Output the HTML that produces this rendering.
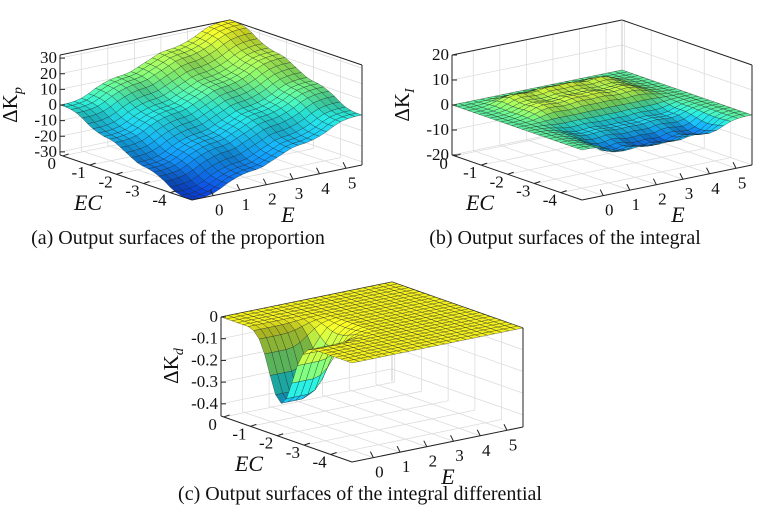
<!DOCTYPE html>
<html><head><meta charset="utf-8"><style>
body{margin:0;background:#fff;}
svg{display:block;}
text{font-family:"Liberation Serif","Times New Roman",serif;}
</style></head><body>
<svg id="fig" width="774" height="516" viewBox="0 0 774 516"></svg>
<script>
// ---- data ----
const eSamples = [-0.8,-0.53,-0.27,0,0.27,0.53,0.8,1.07,1.33,1.6,1.87,2.13,2.4,2.67,2.93,3.2,3.47,3.73,4,4.27,4.53,4.8,5.07,5.33,5.6];
const ecSamples = [-4.8,-4.6,-4.39,-4.19,-3.98,-3.78,-3.57,-3.37,-3.17,-2.96,-2.76,-2.55,-2.35,-2.15,-1.94,-1.74,-1.53,-1.33,-1.12,-0.92,-0.72,-0.51,-0.31,-0.1,0.1];
const kpAlongE = [-16,-16,-15.5,-14.5,-12.5,-10,-8,-6.5,-5.5,-5,-4,-2,0,2,4,5,5.5,6.5,8,10,12.5,14.5,15.5,16,16];
const kpAlongEC = [-16,-16,-15.5,-14.5,-12.5,-10,-8,-6.5,-5.5,-5,-4,-2,0,2,4,5,5.5,6.5,8,10,12.5,14.5,15.5,16,16];
const kiAlongE = [0,0,0.05,0.2,0.5,0.8,0.95,0.9,0.8,0.85,1,1,0.95,1,1,0.85,0.8,0.9,0.95,0.8,0.5,0.2,0.05,0,0];
const kiAlongEC = [-4,-5,-6,-6.5,-6,-5,-4,-3,-3,-3,-2,-1,0.5,2,3,3.5,3.5,3,3,3.5,4,3,1.5,0.5,0];
const kdAlongE = [1,1,1,1,0.95,0.8,0.55,0.3,0.12,0.04,0,0,0,0,0,0,0,0,0,0,0,0,0,0,0];
const kdAlongEC = [0,0,0,0,0,0,0,0,-0.01,-0.04,-0.1,-0.19,-0.27,-0.3,-0.27,-0.19,-0.1,-0.04,-0.01,0,0,0,0,0,0];
const eTicks = [0,1,2,3,4,5];
const ecTicks = [0,-1,-2,-3,-4];
const kpTicks = [30,20,10,0,-10,-20,-30];
const kiTicks = [20,10,0,-10,-20];
const kdTicks = [0,-0.1,-0.2,-0.3,-0.4];

const NS="http://www.w3.org/2000/svg";
const svg=document.getElementById('fig');
function mk(tag,attrs,parent){const el=document.createElementNS(NS,tag);for(const k in attrs)el.setAttribute(k,attrs[k]);(parent||svg).appendChild(el);return el;}
const FONT='"Liberation Serif", "DejaVu Serif", serif';

const stops=[[0,[10,60,210]],[0.3,[20,170,240]],[0.5,[40,225,210]],[0.7,[130,240,110]],[1,[245,240,30]]];
function cmap(t,shade){t=Math.max(0,Math.min(1,t));let i=0;while(i<stops.length-2&&t>stops[i+1][0])i++;
 const a=stops[i],b=stops[i+1],f=(t-a[0])/(b[0]-a[0]);
 const c=a[1].map((v,k)=>Math.min(255,Math.round((v+(b[1][k]-v)*f)*shade)));return `rgb(${c[0]},${c[1]},${c[2]})`;}

function panel(p){
 const g=mk('g',{});
 
 
 const Emin=-0.8,Emax=5.6,ECmin=-4.8,ECmax=0.1;
 function proj(E,EC,z){const u=(E-Emin)/(Emax-Emin),v=(ECmax-EC)/(ECmax-ECmin);
  const x=p.L[0]+v*(p.F[0]-p.L[0])+u*(p.R[0]-p.F[0]);
  const y=p.L[1]+v*(p.F[1]-p.L[1])+u*(p.R[1]-p.F[1])-(z-p.zmin)/(p.zmax-p.zmin)*p.H;return [x,y];}
 const line=(a,b,st,w,par)=>mk('line',{x1:a[0],y1:a[1],x2:b[0],y2:b[1],stroke:st,'stroke-width':w},par||g);
 const gc='#dcdcdc';
 const grid=mk('g',{},g);
 for(const e of eTicks){line(proj(e,ECmax,p.zmin),proj(e,ECmin,p.zmin),gc,0.8,grid);line(proj(e,ECmax,p.zmin),proj(e,ECmax,p.zmax),gc,0.8,grid);}
 for(const c of ecTicks){line(proj(Emin,c,p.zmin),proj(Emax,c,p.zmin),gc,0.8,grid);line(proj(Emax,c,p.zmin),proj(Emax,c,p.zmax),gc,0.8,grid);}
 for(const z of p.zt){line(proj(Emin,ECmax,z),proj(Emax,ECmax,z),gc,0.8,grid);line(proj(Emax,ECmax,z),proj(Emax,ECmin,z),gc,0.8,grid);}
 line(proj(Emin,ECmax,p.zmax),proj(Emax,ECmax,p.zmax),'#222',1);
 line(proj(Emax,ECmax,p.zmax),proj(Emax,ECmin,p.zmax),'#222',1);
 line(proj(Emax,ECmax,p.zmin),proj(Emax,ECmax,p.zmax),'#bbb',0.8);
 line(proj(Emax,ECmin,p.zmin),proj(Emax,ECmin,p.zmax),'#222',1);
 const surf=mk('g',{},g);
 const n=eSamples.length,m=ecSamples.length;const Z=[];
 for(let i=0;i<n;i++){Z[i]=[];for(let j=0;j<m;j++)Z[i][j]=p.zf(i,j);}
 const cells=[];
 for(let i=0;i<n-1;i++)for(let j=0;j<m-1;j++){const u=(i+0.5)/(n-1),v=1-(j+0.5)/(m-1);cells.push([i,j,v+(1-u)]);}
 cells.sort((a,b)=>a[2]-b[2]);
 for(const [i,j] of cells){
  const pts=[[i,j],[i+1,j],[i+1,j+1],[i,j+1]].map(([a,b])=>proj(eSamples[a],ecSamples[b],Z[a][b]));
  const zm=(Z[i][j]+Z[i+1][j]+Z[i+1][j+1]+Z[i][j+1])/4;
  const dzx=(Z[i+1][j]+Z[i+1][j+1]-Z[i][j]-Z[i][j+1])/2/(p.zmax-p.zmin)*6;
  const dzy=(Z[i][j+1]+Z[i+1][j+1]-Z[i][j]-Z[i+1][j])/2/(p.zmax-p.zmin)*6;
  const shade=Math.max(0.75,Math.min(1.08,1.0+dzx*0.8-dzy*0.8));
  mk('polygon',{points:pts.map(q=>q.join(',')).join(' '),fill:cmap((zm-p.cmin)/(p.cmax-p.cmin),shade),stroke:'rgba(20,30,30,0.6)','stroke-width':0.5},surf);
 }
 line(proj(Emin,ECmax,p.zmin),proj(Emin,ECmin,p.zmin),'#222',1);
 line(proj(Emin,ECmin,p.zmin),proj(Emax,ECmin,p.zmin),'#222',1);
 line(proj(Emin,ECmax,p.zmin),proj(Emin,ECmax,p.zmax),'#222',1);
 const txt=(x,y,s,anchor,size,extra)=>{const t=mk('text',Object.assign({x,y,'text-anchor':anchor,'font-size':size,fill:'#111'},extra||{}),g);t.style.fontFamily=FONT;t.textContent=s;return t;};
 for(const z of p.zt){const q=proj(Emin,ECmax,z);line(q,[q[0]+5,q[1]],'#222',1);
  const t=txt(q[0]-3,q[1]+5,String(z),'end',17);
  }
 for(const e of eTicks){const q=proj(e,ECmin,p.zmin);line(q,[q[0]-3,q[1]-6],'#222',1);
  const t=txt(q[0]+6,q[1]+20,String(e),'middle',17);}
 for(const c of ecTicks){const q=proj(Emin,c,p.zmin);line(q,[q[0]+6,q[1]-2],'#222',1);
  const t=txt(q[0]-11,q[1]+13,String(c),'middle',17);}
 const ecl=txt(p.L[0]+28,p.L[1]+55,'EC','middle',22,{'font-style':'italic'});
 const el=txt(p.F[0]+96,p.F[1]+22,'E','middle',22,{'font-style':'italic'});
 const zl=mk('text',{x:0,y:0,'font-size':21,'text-anchor':'middle',fill:'#111',transform:`translate(${p.L[0]-43},${p.L[1]-50}) rotate(-90)`},g);
 zl.style.fontFamily=FONT;
 zl.innerHTML='ΔK<tspan font-size="14" font-style="italic" dy="5">'+p.sub+'</tspan>';
 
 const cap=txt(p.cap[0],p.cap[1],p.capText,'middle',20);
}

panel({name:'panel-proportion',L:[60,155],F:[192,200],R:[362,165],H:100,zmin:-32,zmax:32,zt:kpTicks,cmin:-32,cmax:32,sub:'p',
 zf:(i,j)=>kpAlongE[i]+kpAlongEC[j],cap:[178,244],capText:'(a) Output surfaces of the proportion'});
panel({name:'panel-integral',L:[452,155],F:[582,200],R:[752,165],H:100,zmin:-20,zmax:20,zt:kiTicks,cmin:-8,cmax:5,sub:'I',
 zf:(i,j)=>kiAlongE[i]*kiAlongEC[j],cap:[565,244],capText:'(b) Output surfaces of the integral'});
panel({name:'panel-differential',L:[221,416],F:[352,462],R:[523,427],H:99,zmin:-0.456,zmax:0,zt:kdTicks,cmin:-0.45,cmax:0,sub:'d',
 zf:(i,j)=>kdAlongE[i]*kdAlongEC[j],cap:[360,500],capText:'(c) Output surfaces of the integral differential'});
</script>
</body></html>
